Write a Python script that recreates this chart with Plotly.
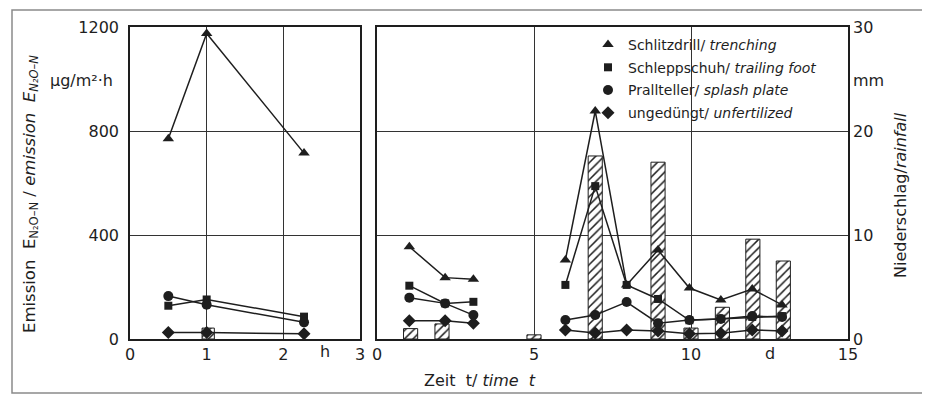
import plotly.graph_objects as go

# ---------------- data ----------------
# left panel: time in hours
hours = [0.5, 1.0, 2.27]
h_trenching = [770, 1175, 715]
h_trailing = [128, 152, 86]
h_splash = [165, 132, 64]
h_unfert = [25, 25, 20]
h_rain_x = [1.02]
h_rain = [1.05]

# right panel: time in days (None breaks the line between the two measuring periods)
days = [1.03, 2.17, 3.07, None, 6.0, 6.95, 7.95, 8.95, 9.95, 10.95, 11.95, 12.9]
d_trenching = [355, 236, 230, None, 304, 877, 208, 342, 196, 150, 192, 131]
d_trailing = [205, 137, 143, None, 208, 588, 208, 154, 72, 78, 85, 88]
d_splash = [159, 137, 92, None, 73, 92, 142, 61, 73, 77, 88, 85]
d_unfert = [70, 70, 61, None, 35, 23, 35, 31, 20, 22, 35, 31]
d_rain_x = [1.07, 2.07, 5.0, 6.95, 8.95, 10.0, 11.0, 11.97, 12.94]
d_rain = [1.0, 1.45, 0.4, 17.6, 17.0, 1.05, 3.05, 9.6, 7.5]

series_names = [
    "Schlitzdrill/ <i>trenching</i>",
    "Schleppschuh/ <i>trailing foot</i>",
    "Prallteller/ <i>splash plate</i>",
    "ungedüngt/ <i>unfertilized</i>",
]
symbols = ["triangle-up", "square", "circle", "diamond"]
sizes = [10, 8, 10, 10]

W, H = 930, 396
OFF = 8  # the page body adds an 8px margin; layout positions compensate for it
INK = "#1e1e1e"
FONT = "DejaVu Sans"


def px(x):
    return (x - OFF) / W


def py(y):
    return 1 - (y - OFF) / H


fig = go.Figure()

bar_marker = dict(color="white", line=dict(color=INK, width=1),
                  pattern=dict(shape="/", fgcolor=INK, bgcolor="white", size=6, solidity=0.25))

# rainfall bars (on the base axes, so they lie beneath the emission lines)
fig.add_trace(go.Bar(x=h_rain_x, y=h_rain, width=0.16, marker=bar_marker,
                     xaxis="x", yaxis="y", showlegend=False))
fig.add_trace(go.Bar(x=d_rain_x, y=d_rain, width=0.45, marker=bar_marker,
                     xaxis="x2", yaxis="y3", showlegend=False))

left_vals = [h_trenching, h_trailing, h_splash, h_unfert]
right_vals = [d_trenching, d_trailing, d_splash, d_unfert]
for i, (name, sym, sz, lv, rv) in enumerate(zip(series_names, symbols, sizes, left_vals, right_vals)):
    style = dict(mode="lines+markers", line=dict(color=INK, width=1.5),
                 marker=dict(symbol=sym, size=sz, color=INK), showlegend=False)
    fig.add_trace(go.Scatter(x=hours, y=lv, xaxis="x", yaxis="y2", **style))
    fig.add_trace(go.Scatter(x=days, y=rv, xaxis="x2", yaxis="y4", connectgaps=False, **style))
    # legend entry (markers only)
    fig.add_trace(go.Scatter(x=[None], y=[None], mode="markers", name=name,
                             legendgroup=f"g{i}",
                             marker=dict(symbol=sym, size=sz, color=INK),
                             xaxis="x2", yaxis="y4"))

ydom = [py(339), py(27)]
tickfont = dict(family=FONT, size=16, color=INK)
common_axis = dict(showline=True, mirror=True, linecolor=INK, linewidth=1.5,
                   showgrid=True, gridcolor="#333", gridwidth=1, zeroline=False,
                   ticks="", tickfont=tickfont, automargin=False)
hidden_rain = dict(range=[0, 30], showgrid=False, showline=False, zeroline=False,
                   showticklabels=False, ticks="", automargin=False)

fig.update_layout(
    template="none",
    width=W, height=H,
    margin=dict(l=0, r=0, t=0, b=0, autoexpand=False),
    paper_bgcolor="white", plot_bgcolor="white",
    font=dict(family=FONT, color=INK),
    barmode="overlay",
    # left panel
    xaxis=dict(domain=[px(130), px(360)], range=[0, 3], tickvals=[0, 1, 2, 3],
               anchor="y", **common_axis),
    yaxis=dict(domain=ydom, anchor="x", **hidden_rain),
    yaxis2=dict(overlaying="y", side="left", range=[0, 1200], tickvals=[0, 400, 800, 1200],
                anchor="x", ticklabelstandoff=6, **common_axis),
    # right panel
    xaxis2=dict(domain=[px(377), px(848)], range=[0, 15], tickvals=[0, 5, 10, 15],
                anchor="y3", **common_axis),
    yaxis3=dict(domain=ydom, side="right", range=[0, 30], tickvals=[0, 10, 20, 30],
                showgrid=False, zeroline=False, showline=False, ticks="",
                tickfont=tickfont, anchor="x2", ticklabelstandoff=4, automargin=False),
    yaxis4=dict(overlaying="y3", side="left", range=[0, 1200], tickvals=[0, 400, 800, 1200],
                showticklabels=False, anchor="x2", **common_axis),
    legend=dict(x=px(588), y=py(29), xanchor="left", yanchor="top",
                bgcolor="rgba(0,0,0,0)", borderwidth=0,
                font=dict(family=FONT, size=14, color=INK),
                itemwidth=30, tracegroupgap=1.5),
    showlegend=True,
)

# white patch behind the legend, hiding the grid there but not the data
fig.add_shape(type="rect", xref="paper", yref="paper",
              x0=px(603), x1=px(846), y0=py(123), y1=py(35),
              line=dict(width=0), fillcolor="white", layer="between")

ann_font = dict(family=FONT, size=16, color=INK)
ctr = dict(showarrow=False, font=ann_font, xanchor="center", yanchor="middle")
fig.add_annotation(x=2.54, xref="x", y=py(351), yref="paper", text="h", **ctr)
fig.add_annotation(x=12.5, xref="x2", y=py(353), yref="paper", text="d", **ctr)
fig.add_annotation(x=px(868), xref="paper", y=24.9, yref="y3", text="mm", **ctr)
fig.add_annotation(x=px(81), xref="paper", y=py(80), yref="paper", text="µg/m²·h", **ctr)
fig.add_annotation(x=px(480), xref="paper", y=py(380), yref="paper",
                   text="Zeit  t/ <i>time  t</i>", **ctr)
fig.add_annotation(x=px(30), xref="paper", y=py(194), yref="paper", textangle=-90,
                   text="Emission  E<sub>N₂O–N</sub> / <i>emission  E<sub>N₂O–N</sub></i>",
                   showarrow=False, xanchor="center", yanchor="middle",
                   font=dict(family=FONT, size=16.5, color=INK))
fig.add_annotation(x=px(900), xref="paper", y=py(195), yref="paper", textangle=-90,
                   text="Niederschlag/<i>rainfall</i>", **ctr)

# outer frame of the figure
fig.add_shape(type="rect", xref="paper", yref="paper",
              x0=px(12), x1=px(925), y0=py(393), y1=py(10),
              line=dict(color="#8a8a8a", width=1.5), fillcolor="rgba(0,0,0,0)", layer="below")

fig.write_html("out.html")
